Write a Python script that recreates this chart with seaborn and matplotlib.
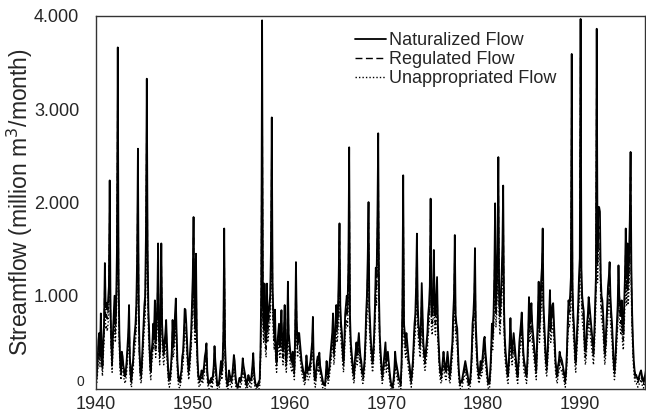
import pandas as pd
import numpy as np
import matplotlib
matplotlib.use("Agg")
import matplotlib.pyplot as plt
from matplotlib.ticker import FuncFormatter
from matplotlib.transforms import ScaledTranslation
import seaborn as sns

sns.set_style("white")
plt.rcParams["font.family"] = ["Liberation Sans", "DejaVu Sans"]

years = list(range(1940, 1997))

# monthly values, million m3/month, one row per year (Jan..Dec)
naturalized = [
    [120, 150, 300, 520, 600, 380, 810, 450, 250, 500, 700, 1350],
    [880, 920, 850, 950, 1100, 2235, 900, 500, 300, 600, 800, 1000],
    [700, 900, 1500, 3660, 1200, 600, 300, 200, 400, 350, 250, 200],
    [150, 200, 300, 450, 600, 900, 350, 150, 100, 250, 300, 500],
    [600, 700, 900, 1400, 2575, 900, 400, 200, 150, 300, 500, 700],
    [900, 1000, 1700, 3325, 1500, 850, 600, 300, 200, 400, 500, 700],
    [600, 950, 500, 700, 900, 1560, 600, 400, 800, 1560, 700, 500],
    [400, 500, 600, 740, 500, 300, 150, 100, 150, 250, 400, 740],
    [500, 600, 800, 970, 600, 300, 150, 100, 80, 150, 200, 350],
    [400, 600, 860, 850, 700, 500, 300, 200, 300, 450, 600, 900],
    [1200, 1843, 900, 700, 1450, 600, 300, 150, 100, 120, 150, 200],
    [150, 180, 250, 350, 400, 490, 200, 100, 60, 80, 100, 120],
    [100, 150, 250, 460, 300, 200, 80, 50, 40, 100, 200, 300],
    [200, 300, 600, 1720, 500, 250, 100, 60, 80, 200, 150, 120],
    [100, 150, 250, 365, 300, 150, 60, 40, 30, 80, 120, 100],
    [120, 200, 330, 250, 200, 150, 80, 60, 100, 150, 120, 100],
    [90, 150, 250, 385, 200, 100, 50, 30, 40, 60, 80, 100],
    [400, 1100, 3950, 900, 700, 1130, 600, 500, 1130, 700, 800, 900],
    [1000, 1500, 2910, 1100, 800, 600, 850, 400, 300, 500, 600, 700],
    [500, 600, 845, 500, 400, 600, 900, 400, 300, 500, 1150, 600],
    [500, 400, 350, 300, 400, 300, 200, 600, 1360, 700, 500, 600],
    [600, 500, 400, 300, 250, 200, 150, 120, 200, 360, 250, 200],
    [200, 250, 300, 400, 500, 773, 300, 150, 100, 200, 300, 350],
    [300, 390, 250, 200, 150, 100, 60, 40, 50, 150, 300, 200],
    [150, 200, 300, 400, 500, 600, 810, 400, 500, 700, 900, 700],
    [800, 1200, 1775, 900, 700, 600, 400, 300, 500, 800, 900, 1000],
    [900, 1300, 2590, 800, 500, 400, 300, 200, 150, 300, 400, 500],
    [400, 500, 600, 450, 350, 300, 200, 150, 200, 300, 500, 800],
    [1000, 1400, 2003, 900, 700, 500, 400, 300, 400, 600, 900, 1300],
    [1200, 1800, 2740, 1000, 560, 400, 250, 150, 200, 300, 400, 500],
    [300, 350, 400, 300, 200, 120, 60, 40, 30, 100, 200, 400],
    [300, 250, 200, 150, 100, 80, 60, 300, 900, 2290, 700, 600],
    [500, 600, 500, 400, 300, 250, 150, 100, 200, 300, 500, 700],
    [800, 1100, 1665, 900, 700, 600, 500, 700, 1135, 800, 500, 400],
    [320, 400, 500, 600, 800, 900, 1100, 2040, 900, 800, 1000, 1490],
    [900, 800, 1000, 1200, 700, 500, 300, 200, 150, 200, 300, 400],
    [300, 250, 200, 300, 400, 300, 200, 150, 250, 400, 500, 800],
    [1000, 1650, 800, 700, 650, 400, 200, 100, 60, 80, 100, 150],
    [200, 250, 300, 250, 200, 150, 80, 50, 100, 200, 400, 700],
    [800, 1000, 1510, 700, 500, 300, 200, 150, 200, 300, 250, 300],
    [400, 525, 560, 400, 300, 200, 100, 60, 80, 200, 400, 700],
    [600, 800, 1200, 1990, 900, 1100, 1500, 2485, 1000, 800, 1000, 1200],
    [1500, 2180, 900, 550, 400, 300, 200, 150, 300, 500, 760, 500],
    [400, 500, 600, 500, 400, 300, 200, 150, 300, 500, 600, 700],
    [820, 600, 400, 300, 250, 200, 150, 300, 600, 985, 700, 800],
    [920, 700, 600, 500, 400, 300, 200, 500, 800, 1150, 700, 900],
    [1150, 1300, 1720, 900, 700, 500, 300, 250, 400, 600, 800, 1060],
    [700, 800, 900, 920, 700, 500, 300, 200, 150, 250, 300, 400],
    [350, 330, 300, 250, 200, 150, 100, 200, 400, 700, 950, 900],
    [1000, 1200, 3590, 1100, 800, 650, 400, 300, 500, 700, 900, 1200],
    [1400, 3965, 1300, 1000, 900, 830, 500, 400, 500, 700, 800, 985],
    [900, 800, 700, 600, 500, 400, 600, 900, 1200, 3860, 1500, 1950],
    [1950, 1900, 1200, 1000, 950, 800, 600, 400, 500, 700, 900, 1100],
    [1200, 1360, 1000, 830, 700, 500, 300, 200, 300, 500, 700, 900],
    [1325, 1000, 900, 800, 950, 700, 600, 900, 1200, 1720, 1200, 1560],
    [1200, 1400, 1800, 2540, 1300, 800, 500, 300, 200, 150, 150, 120],
    [100, 120, 150, 180, 200, 150, 100, 80, 120, 150, 200, 250],
]

regulated = [
    [90, 120, 250, 450, 520, 320, 710, 390, 200, 430, 610, 1200],
    [770, 810, 750, 840, 970, 2000, 790, 430, 250, 520, 700, 880],
    [610, 790, 1330, 3270, 1060, 520, 250, 160, 340, 290, 200, 160],
    [110, 160, 250, 380, 520, 790, 290, 110, 70, 200, 250, 430],
    [520, 610, 790, 1240, 2300, 790, 340, 160, 110, 250, 430, 610],
    [790, 880, 1510, 2970, 1330, 750, 520, 250, 160, 340, 430, 610],
    [520, 840, 430, 610, 790, 1380, 520, 340, 700, 1380, 610, 430],
    [340, 430, 520, 650, 430, 250, 110, 70, 110, 200, 340, 650],
    [430, 520, 700, 850, 520, 250, 110, 70, 50, 110, 160, 300],
    [340, 520, 750, 750, 610, 430, 250, 160, 250, 390, 520, 790],
    [1060, 1640, 790, 610, 1290, 520, 250, 110, 70, 90, 110, 160],
    [110, 140, 200, 290, 340, 420, 160, 70, 30, 50, 70, 90],
    [70, 110, 200, 390, 250, 160, 50, 30, 20, 70, 160, 250],
    [160, 250, 520, 1530, 430, 200, 70, 30, 50, 160, 110, 90],
    [70, 110, 200, 310, 250, 110, 30, 20, 10, 50, 90, 70],
    [90, 160, 280, 200, 160, 110, 50, 30, 70, 110, 90, 70],
    [60, 110, 200, 330, 160, 70, 30, 10, 20, 30, 50, 70],
    [340, 970, 3530, 790, 610, 1000, 520, 430, 1000, 610, 700, 790],
    [880, 1330, 2600, 970, 700, 520, 750, 340, 250, 430, 520, 610],
    [430, 520, 740, 430, 340, 520, 790, 340, 250, 430, 1020, 520],
    [430, 340, 300, 250, 340, 250, 160, 520, 1200, 610, 430, 520],
    [520, 430, 340, 250, 200, 160, 110, 90, 160, 300, 200, 160],
    [160, 200, 250, 340, 430, 680, 250, 110, 70, 160, 250, 300],
    [250, 330, 200, 160, 110, 70, 30, 20, 30, 110, 250, 160],
    [110, 160, 250, 340, 430, 520, 710, 340, 430, 610, 790, 610],
    [700, 1060, 1580, 790, 610, 520, 340, 250, 430, 700, 790, 880],
    [790, 1150, 2310, 700, 430, 340, 250, 160, 110, 250, 340, 430],
    [340, 430, 520, 390, 300, 250, 160, 110, 160, 250, 430, 700],
    [880, 1240, 1780, 790, 610, 430, 340, 250, 340, 520, 790, 1150],
    [1060, 1600, 2450, 880, 480, 340, 200, 110, 160, 250, 340, 430],
    [250, 300, 340, 250, 160, 90, 30, 20, 10, 70, 160, 340],
    [250, 200, 160, 110, 70, 50, 30, 250, 790, 2040, 610, 520],
    [430, 520, 430, 340, 250, 200, 110, 70, 160, 250, 430, 610],
    [700, 970, 1480, 790, 610, 520, 430, 610, 1000, 700, 430, 340],
    [270, 340, 430, 520, 700, 790, 970, 1820, 790, 700, 880, 1320],
    [790, 700, 880, 1060, 610, 430, 250, 160, 110, 160, 250, 340],
    [250, 200, 160, 250, 340, 250, 160, 110, 200, 340, 430, 700],
    [880, 1470, 700, 610, 570, 340, 160, 70, 30, 50, 70, 110],
    [160, 200, 250, 200, 160, 110, 50, 30, 70, 160, 340, 610],
    [700, 880, 1340, 610, 430, 250, 160, 110, 160, 250, 200, 250],
    [340, 450, 480, 340, 250, 160, 70, 30, 50, 160, 340, 610],
    [520, 700, 1060, 1770, 790, 970, 1330, 2220, 880, 700, 880, 1060],
    [1330, 1940, 790, 470, 340, 250, 160, 110, 250, 430, 660, 430],
    [340, 430, 520, 430, 340, 250, 160, 110, 250, 430, 520, 610],
    [720, 520, 340, 250, 200, 160, 110, 250, 520, 870, 610, 700],
    [810, 610, 520, 430, 340, 250, 160, 430, 700, 1020, 610, 790],
    [1020, 1150, 1530, 790, 610, 430, 250, 200, 340, 520, 700, 930],
    [610, 700, 790, 810, 610, 430, 250, 160, 110, 200, 250, 340],
    [300, 280, 250, 200, 160, 110, 70, 160, 340, 610, 840, 790],
    [880, 1060, 3210, 970, 700, 570, 340, 250, 430, 610, 790, 1060],
    [1240, 3550, 1150, 880, 790, 730, 430, 340, 430, 610, 700, 870],
    [790, 700, 610, 520, 430, 340, 520, 790, 1060, 3450, 1330, 1740],
    [1740, 1690, 1060, 880, 840, 700, 520, 340, 430, 610, 790, 970],
    [1060, 1200, 880, 730, 610, 430, 250, 160, 250, 430, 610, 790],
    [1170, 880, 790, 700, 840, 610, 520, 790, 1060, 1530, 1060, 1380],
    [1060, 1240, 1600, 2270, 1150, 700, 430, 250, 160, 110, 110, 90],
    [70, 90, 110, 140, 160, 110, 70, 50, 90, 110, 160, 200],
]

unappropriated = [
    [30, 60, 180, 360, 420, 240, 590, 300, 140, 340, 500, 1020],
    [640, 680, 620, 700, 820, 1730, 660, 340, 180, 420, 580, 740],
    [500, 660, 1140, 2870, 900, 420, 180, 100, 260, 220, 140, 100],
    [60, 100, 180, 300, 420, 660, 220, 60, 20, 140, 180, 340],
    [420, 500, 660, 1060, 2000, 660, 260, 100, 60, 180, 340, 500],
    [660, 740, 1300, 2600, 1140, 620, 420, 180, 100, 260, 340, 500],
    [420, 700, 340, 500, 660, 1190, 420, 260, 580, 1190, 500, 340],
    [260, 340, 420, 530, 340, 180, 60, 20, 60, 140, 260, 530],
    [340, 420, 580, 720, 420, 180, 60, 20, 10, 60, 100, 220],
    [260, 420, 630, 620, 500, 340, 180, 100, 180, 300, 420, 660],
    [900, 1410, 660, 500, 1100, 420, 180, 60, 20, 40, 60, 100],
    [60, 80, 140, 220, 260, 330, 100, 20, 0, 10, 20, 40],
    [20, 60, 140, 310, 180, 100, 10, 0, 0, 20, 100, 180],
    [100, 180, 420, 1320, 340, 140, 20, 0, 10, 100, 60, 40],
    [20, 60, 140, 230, 180, 60, 0, 0, 0, 10, 40, 20],
    [40, 100, 200, 140, 100, 60, 10, 0, 20, 60, 40, 20],
    [10, 60, 140, 250, 100, 20, 0, 0, 0, 0, 0, 20],
    [260, 820, 3100, 660, 500, 840, 420, 340, 840, 500, 580, 660],
    [740, 1140, 2270, 820, 580, 420, 620, 260, 180, 340, 420, 500],
    [340, 420, 620, 340, 260, 420, 660, 260, 180, 340, 860, 420],
    [340, 260, 220, 180, 260, 180, 100, 420, 1030, 500, 340, 420],
    [420, 340, 260, 180, 140, 100, 60, 40, 100, 230, 140, 100],
    [100, 140, 180, 260, 340, 560, 180, 60, 20, 100, 180, 220],
    [180, 250, 140, 100, 60, 20, 0, 0, 0, 60, 180, 100],
    [60, 100, 180, 260, 340, 420, 590, 260, 340, 500, 660, 500],
    [580, 900, 1360, 660, 500, 420, 260, 180, 340, 580, 660, 740],
    [660, 980, 2010, 580, 340, 260, 180, 100, 60, 180, 260, 340],
    [260, 340, 420, 300, 220, 180, 100, 60, 100, 180, 340, 580],
    [740, 1060, 1540, 660, 500, 340, 260, 180, 260, 420, 660, 980],
    [900, 1380, 2130, 740, 390, 260, 140, 60, 100, 180, 260, 340],
    [180, 220, 260, 180, 100, 40, 0, 0, 0, 20, 100, 260],
    [180, 140, 100, 60, 20, 10, 0, 180, 660, 1770, 500, 420],
    [340, 420, 340, 260, 180, 140, 60, 20, 100, 180, 340, 500],
    [580, 820, 1270, 660, 500, 420, 340, 500, 850, 580, 340, 260],
    [200, 260, 340, 420, 580, 660, 820, 1570, 660, 580, 740, 1130],
    [660, 580, 740, 900, 500, 340, 180, 100, 60, 100, 180, 260],
    [180, 140, 100, 180, 260, 180, 100, 60, 140, 260, 340, 580],
    [740, 1260, 580, 500, 460, 260, 100, 20, 0, 10, 20, 60],
    [100, 140, 180, 140, 100, 60, 10, 0, 20, 100, 260, 500],
    [580, 740, 1150, 500, 340, 180, 100, 60, 100, 180, 140, 180],
    [260, 360, 390, 260, 180, 100, 20, 0, 10, 100, 260, 500],
    [420, 580, 900, 1530, 660, 820, 1140, 1930, 740, 580, 740, 900],
    [1140, 1680, 660, 380, 260, 180, 100, 60, 180, 340, 550, 340],
    [260, 340, 420, 340, 260, 180, 100, 60, 180, 340, 420, 500],
    [600, 420, 260, 180, 140, 100, 60, 180, 420, 730, 500, 580],
    [680, 500, 420, 340, 260, 180, 100, 340, 580, 860, 500, 660],
    [860, 980, 1320, 660, 500, 340, 180, 140, 260, 420, 580, 790],
    [500, 580, 660, 680, 500, 340, 180, 100, 60, 140, 180, 260],
    [220, 200, 180, 140, 100, 60, 20, 100, 260, 500, 700, 660],
    [740, 900, 2810, 820, 580, 460, 260, 180, 340, 500, 660, 900],
    [1060, 3110, 980, 740, 660, 600, 340, 260, 340, 500, 580, 730],
    [660, 580, 500, 420, 340, 260, 420, 660, 900, 3030, 1140, 1500],
    [1500, 1460, 900, 740, 700, 580, 420, 260, 340, 500, 660, 820],
    [900, 1030, 740, 600, 500, 340, 180, 100, 180, 340, 500, 660],
    [1000, 740, 660, 580, 700, 500, 420, 660, 900, 1320, 900, 1190],
    [900, 1060, 1380, 1970, 980, 580, 340, 180, 100, 60, 60, 40],
    [20, 40, 60, 80, 100, 60, 20, 10, 40, 60, 100, 140],
]

series_names = ["Naturalized Flow", "Regulated Flow", "Unappropriated Flow"]
x_ticks = [1940, 1950, 1960, 1970, 1980, 1990]
y_ticks = [0, 1000, 2000, 3000, 4000]

# long format table: one row per month and series
rows = []
for name, table in zip(series_names, [naturalized, regulated, unappropriated]):
    for yr, vals in zip(years, table):
        for m, v in enumerate(vals):
            rows.append({"time": yr + m / 12.0, "flow": v, "series": name})
df = pd.DataFrame(rows)

fig = plt.figure(figsize=(6.46, 4.13), dpi=100)
ax = fig.add_axes([0.1486, 0.058, 0.850, 0.904])

styles = {
    "Naturalized Flow": ("-", 1.3),
    "Regulated Flow": ((0, (5, 2.5)), 1.0),
    "Unappropriated Flow": ((0, (1, 1.5)), 1.0),
}
for name in series_names:
    ls, lw = styles[name]
    sns.lineplot(
        data=df[df["series"] == name],
        x="time",
        y="flow",
        ax=ax,
        color="black",
        linewidth=lw,
        linestyle=ls,
        label=name,
        estimator=None,
    )

ax.set_xlim(1940, 1996.75)
ax.set_ylim(0, 4000)
ax.set_xticks(x_ticks)
ax.set_yticks(y_ticks)
ax.yaxis.set_major_formatter(FuncFormatter(lambda v, p: f"{v:,.0f}".replace(",", ".")))
ax.tick_params(axis="both", labelsize=13, length=3, width=0.8, direction="out",
               color="#333333")
ax.tick_params(axis="y", pad=9)
ax.tick_params(axis="x", pad=2)

# the zero label sits a bit higher, smaller and closer to the axis in the original
zero_label = ax.get_yticklabels()[0]
zero_label.set_fontsize(10)
zero_label.set_verticalalignment("bottom")
zero_label.set_transform(zero_label.get_transform()
                         + ScaledTranslation(5 / 100, 0, fig.dpi_scale_trans))

ax.set_xlabel("")
ax.set_ylabel("Streamflow (million m$^3$/month)", fontsize=16.5)
ax.yaxis.set_label_coords(-0.111, 0.5)

for side in ["left", "bottom", "top", "right"]:
    ax.spines[side].set_color("#333333")
    ax.spines[side].set_linewidth(1.0)

ax.legend(
    loc="upper left",
    bbox_to_anchor=(0.472, 0.955),
    frameon=False,
    fontsize=13,
    handlelength=1.7,
    handletextpad=0.2,
    labelspacing=0.1,
    borderpad=0,
    borderaxespad=0,
)

fig.savefig("out.png", dpi=100)
